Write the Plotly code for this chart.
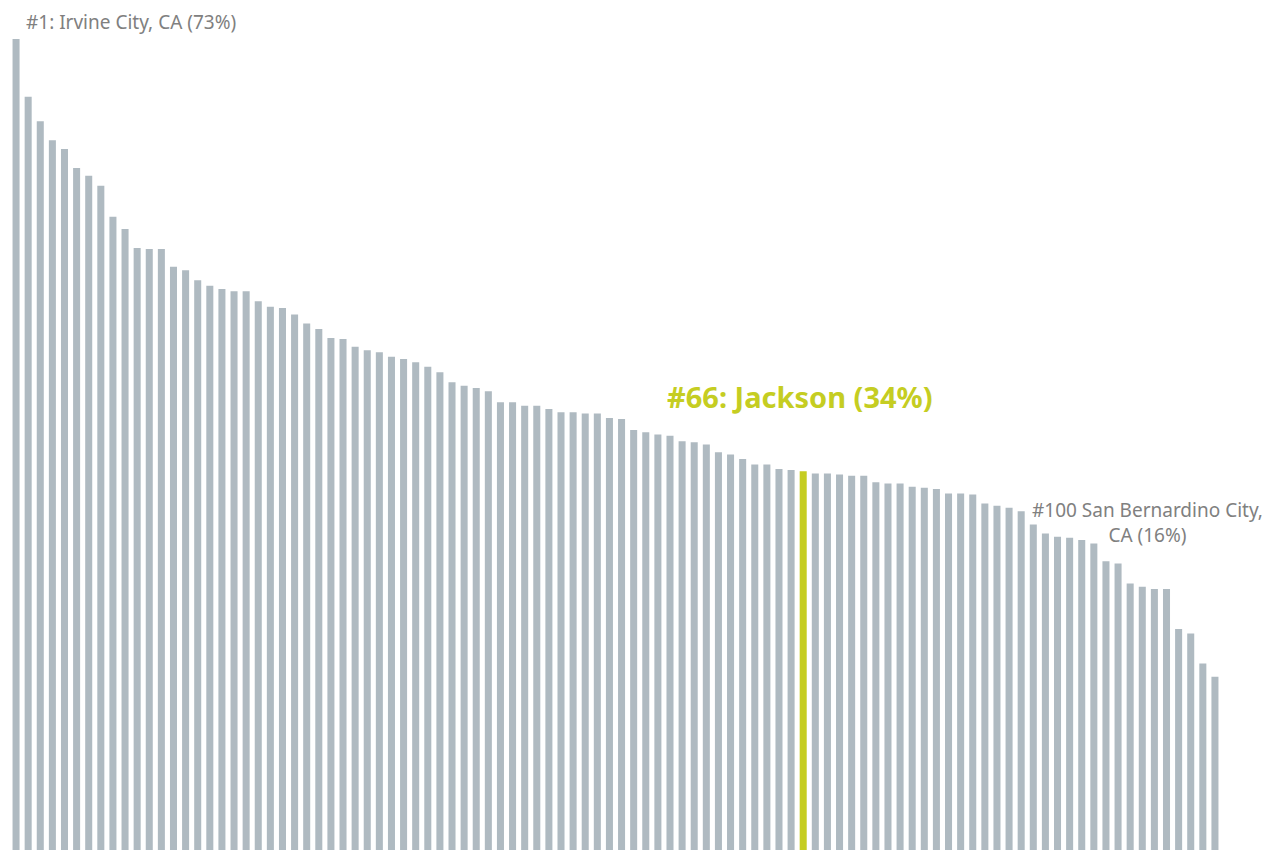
import plotly.graph_objects as go

# share (%) for the 100 ranked cities
ranks = list(range(1, 101))
share = [
    73.0, 67.8, 65.6, 63.9, 63.1, 61.4, 60.7, 59.8, 57.0, 55.9,
    54.2, 54.1, 54.1, 52.5, 52.2, 51.3, 50.8, 50.5, 50.3, 50.3,
    49.4, 48.9, 48.8, 48.2, 47.4, 46.9, 46.1, 46.0, 45.3, 45.0,
    44.8, 44.4, 44.2, 43.9, 43.5, 43.0, 42.1, 41.8, 41.6, 41.3,
    40.3, 40.3, 40.0, 40.0, 39.7, 39.4, 39.4, 39.3, 39.3, 38.9,
    38.8, 37.8, 37.6, 37.4, 37.3, 36.8, 36.7, 36.5, 35.8, 35.6,
    35.2, 34.7, 34.7, 34.3, 34.2, 34.1, 33.9, 33.9, 33.8, 33.7,
    33.7, 33.1, 33.0, 33.0, 32.7, 32.6, 32.5, 32.1, 32.1, 32.0,
    31.2, 31.0, 30.8, 30.5, 29.3, 28.5, 28.2, 28.1, 27.9, 27.6,
    26.0, 25.8, 24.0, 23.7, 23.5, 23.5, 19.9, 19.5, 16.8, 15.6,
]
highlight_rank = 66
top_label = "#1: Irvine City, CA (73%)"
highlight_label = "#66: Jackson (34%)"
bottom_label = "#100 San Bernardino City,<br>CA (16%)"

grey = "#afbac1"
green = "#c5cd22"
colors = [green if r == highlight_rank else grey for r in ranks]

fig = go.Figure(go.Bar(x=ranks, y=share, marker_color=colors,
                       marker_line_width=0, hoverinfo="x+y"))

fig.add_annotation(x=1, y=74.55, xref="x", yref="y", text=top_label,
                   showarrow=False, xanchor="left", yanchor="middle", xshift=9,
                   borderpad=0, font=dict(size=19, color="#808080"))
fig.add_annotation(x=highlight_rank, y=40.8, xref="x", yref="y",
                   text="<b>" + highlight_label + "</b>",
                   showarrow=False, xanchor="center", yanchor="middle", xshift=-3,
                   font=dict(size=29, color=green))
fig.add_annotation(x=94.4, y=29.5, xref="x", yref="y", text=bottom_label,
                   showarrow=False, xanchor="center", yanchor="middle", align="center",
                   font=dict(size=19, color="#808080"))

# the page body adds an 8px margin, so the figure is a bit smaller than the window
fig.update_layout(
    width=1277, height=843,
    margin=dict(l=2, r=64, t=0, b=1),
    plot_bgcolor="white", paper_bgcolor="white",
    bargap=0.42, showlegend=False,
    font=dict(family="Noto Sans, Open Sans, sans-serif"),
    xaxis=dict(visible=False, range=[0.5, 100.5]),
    yaxis=dict(visible=False, range=[0, 75.8]),
)

fig.write_html("out.html")
